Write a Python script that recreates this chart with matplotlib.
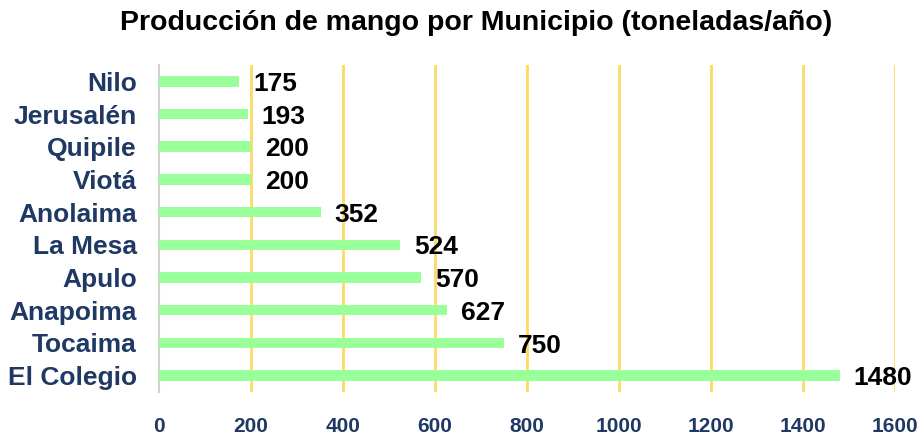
import matplotlib.pyplot as plt

# data (top to bottom as in the chart)
municipios = ["Nilo", "Jerusalén", "Quipile", "Viotá", "Anolaima",
              "La Mesa", "Apulo", "Anapoima", "Tocaima", "El Colegio"]
produccion = [175, 193, 200, 200, 352, 524, 570, 627, 750, 1480]
xticks = [0, 200, 400, 600, 800, 1000, 1200, 1400, 1600]

plt.rcParams['font.family'] = ['Liberation Sans', 'DejaVu Sans']

fig = plt.figure(figsize=(9.2, 4.36), dpi=100)
ax = fig.add_axes([0.1728, 0.101, 0.8, 0.75])

ypos = list(range(len(municipios)))
ax.barh(ypos, produccion, height=0.32, color="#99FF99", zorder=3)

# value labels
for y, v in zip(ypos, produccion):
    ax.text(v + 30, y + 0.08, str(v), va="center", ha="left",
            fontsize=19, fontweight="bold", color="black", zorder=4)

ax.set_xlim(0, 1600)
ax.set_ylim(len(municipios) - 0.5, -0.5)
ax.set_yticks(ypos)
ax.set_yticklabels(municipios)
ax.set_xticks(xticks)

for x in xticks[1:]:
    ax.axvline(x, color="#FFD966", lw=2, zorder=1)

for s in ["top", "right", "bottom"]:
    ax.spines[s].set_visible(False)
ax.spines["left"].set_color("#D0D0D0")
ax.spines["left"].set_linewidth(1.5)

ax.tick_params(axis="y", length=0, pad=16, labelsize=19, labelcolor="#1F3864")
ax.tick_params(axis="x", length=0, pad=18, labelsize=15, labelcolor="#1F3864")
for lbl in ax.get_yticklabels() + ax.get_xticklabels():
    lbl.set_fontweight("bold")

fig.text(0.517, 0.948, "Producción de mango por Municipio (toneladas/año)",
         ha="center", va="center", fontsize=20.5, fontweight="bold")

fig.savefig("out.png", dpi=100)
